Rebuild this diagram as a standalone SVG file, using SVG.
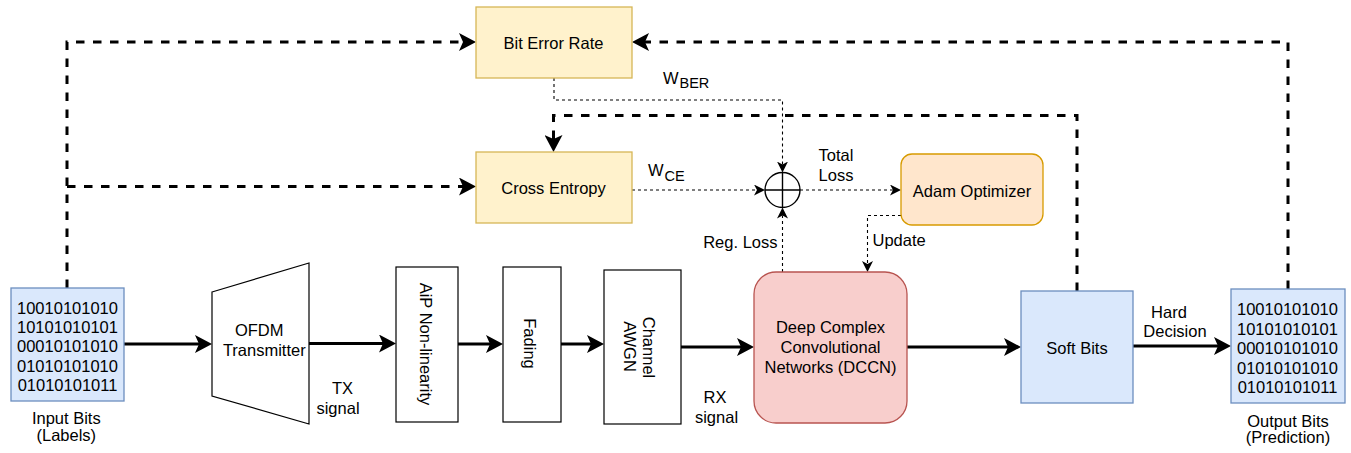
<svg xmlns="http://www.w3.org/2000/svg" width="1351" height="453" viewBox="0 0 1351 453">
<style>
text{font-family:"Liberation Sans",Arial,Helvetica,sans-serif;font-size:16.5px;fill:#000}
.c{text-anchor:middle}
.e{text-anchor:end}
.box{fill:#fff;stroke:#000;stroke-width:1.2}
.yel{fill:#fff2cc;stroke:#d6b656;stroke-width:1.3}
.org{fill:#ffe6cc;stroke:#d79b00;stroke-width:1.3}
.red{fill:#f8cecc;stroke:#b85450;stroke-width:1.3}
.blu{fill:#dae8fc;stroke:#6c8ebf;stroke-width:1.3}
.solid{fill:none;stroke:#000;stroke-width:3}
.dash{fill:none;stroke:#000;stroke-width:3;stroke-dasharray:8.5 8.5}
.dot{fill:none;stroke:#000;stroke-width:1.1;stroke-dasharray:3 3}
</style>
<defs>
<marker id="ah" markerUnits="userSpaceOnUse" viewBox="0 0 17 18" markerWidth="17" markerHeight="18" refX="4" refY="9" orient="auto"><path d="M0,0 L17,9 L0,18 L4,9 Z" fill="#000"/></marker>
<marker id="as" markerUnits="userSpaceOnUse" viewBox="0 0 11 11" markerWidth="11" markerHeight="11" refX="3" refY="5.5" orient="auto"><path d="M0,0 L11,5.5 L0,11 L3,5.5 Z" fill="#000"/></marker>
</defs>

<g id="connectors">
<path class="solid" d="M124,344 H199" marker-end="url(#ah)"/>
<path class="solid" d="M309,343.5 H383" marker-end="url(#ah)"/>
<path class="solid" d="M458,344 H490" marker-end="url(#ah)"/>
<path class="solid" d="M561,344 H591" marker-end="url(#ah)"/>
<path class="solid" d="M681,347 H741" marker-end="url(#ah)"/>
<path class="solid" d="M907,347 H1008" marker-end="url(#ah)"/>
<path class="solid" d="M1133,346 H1218" marker-end="url(#ah)"/>
<path class="dash" d="M67,288 V42 H463" marker-end="url(#ah)"/>
<path class="dash" d="M67,186.5 H463" marker-end="url(#ah)"/>
<path class="dash" d="M1288,289 V42 H645" marker-end="url(#ah)"/>
<path class="dash" d="M1077,291 V115.5 H553.5 V139" marker-end="url(#ah)"/>
<path class="dot" d="M554,78 V100 H782.5 V164.5" marker-end="url(#as)"/>
<path class="dot" d="M632,190 H757" marker-end="url(#as)"/>
<path class="dot" d="M800,190 H893" marker-end="url(#as)"/>
<path class="dot" d="M901,215.5 H867.5 V264" marker-end="url(#as)"/>
<path class="dot" d="M782.5,272 V215.5" marker-end="url(#as)"/>
</g>

<g id="labels">
<text x="663" y="83.5">W</text><text x="679.5" y="87.5" style="font-size:14.5px">BER</text>
<text x="648" y="175.7">W</text><text x="664.5" y="180.7" style="font-size:14.5px">CE</text>
<text class="c" x="836" y="161">Total</text>
<text class="c" x="836" y="180.7">Loss</text>
<text class="e" x="777.5" y="248">Reg. Loss</text>
<text x="872.5" y="246">Update</text>
<text class="c" x="342.5" y="394">TX</text>
<text class="c" x="338" y="413.5">signal</text>
<text class="c" x="715" y="403.3">RX</text>
<text class="c" x="716.5" y="423">signal</text>
<text class="c" x="1169" y="317.7">Hard</text>
<text class="c" x="1175" y="336.7">Decision</text>
</g>

<g id="input-bits">
<rect class="blu" x="11" y="288" width="113" height="113"/>
<text class="c" x="67.5" y="314">10010101010</text>
<text class="c" x="67.5" y="333.2">10101010101</text>
<text class="c" x="67.5" y="352.4">00010101010</text>
<text class="c" x="67.5" y="371.6">01010101010</text>
<text class="c" x="67.5" y="390.8">01010101011</text>
<text class="c" x="66.3" y="423.5">Input Bits</text>
<text class="c" x="66.3" y="441">(Labels)</text>
</g>

<g id="ofdm">
<path class="box" d="M212,292 L309,263 L309,424 L212,396 Z"/>
<text class="c" x="259.2" y="336">OFDM</text>
<text class="c" x="264.3" y="356">Transmitter</text>
</g>

<g id="aip">
<rect class="box" x="396" y="267" width="62" height="155"/>
<text class="c" transform="translate(425.5,344) rotate(90)" y="5.8">AiP Non-linearity</text>
</g>

<g id="fading">
<rect class="box" x="503" y="267" width="58" height="155"/>
<text class="c" transform="translate(530,343.5) rotate(90)" y="5.8">Fading</text>
</g>

<g id="channel">
<rect class="box" x="604" y="270" width="77" height="154"/>
<text class="c" transform="translate(649.2,347.5) rotate(90)" y="5.8">Channel</text>
<text class="c" transform="translate(630.2,346.5) rotate(90)" y="5.8">AWGN</text>
</g>

<g id="dccn">
<rect class="red" x="754" y="272" width="153" height="151" rx="22"/>
<text class="c" x="830.5" y="333.3">Deep Complex</text>
<text class="c" x="830.5" y="353.3">Convolutional</text>
<text class="c" x="830.5" y="373.3">Networks (DCCN)</text>
</g>

<g id="soft-bits">
<rect class="blu" x="1021" y="291" width="112" height="112"/>
<text class="c" x="1077" y="353.5">Soft Bits</text>
</g>

<g id="output-bits">
<rect class="blu" x="1231" y="289" width="114" height="114"/>
<text class="c" x="1287.5" y="315">10010101010</text>
<text class="c" x="1287.5" y="334.6">10101010101</text>
<text class="c" x="1287.5" y="354.2">00010101010</text>
<text class="c" x="1287.5" y="373.8">01010101010</text>
<text class="c" x="1287.5" y="393.3">01010101011</text>
<text class="c" x="1288" y="426.7">Output Bits</text>
<text class="c" x="1288" y="443.2">(Prediction)</text>
</g>

<g id="bit-error-rate">
<rect class="yel" x="476" y="7" width="156" height="71"/>
<text class="c" x="553.5" y="49.3">Bit Error Rate</text>
</g>

<g id="cross-entropy">
<rect class="yel" x="476" y="152" width="156" height="71"/>
<text class="c" x="553.5" y="193.5">Cross Entropy</text>
</g>

<g id="sum">
<circle cx="782.5" cy="190" r="17.5" fill="#fff" stroke="#000" stroke-width="1.4"/>
<path d="M765,190 H800 M782.5,172.5 V207.5" stroke="#000" stroke-width="1.4" fill="none"/>
</g>

<g id="adam-optimizer">
<rect class="org" x="901" y="154" width="142" height="71" rx="11"/>
<text class="c" x="972" y="196.7">Adam Optimizer</text>
</g>
</svg>
